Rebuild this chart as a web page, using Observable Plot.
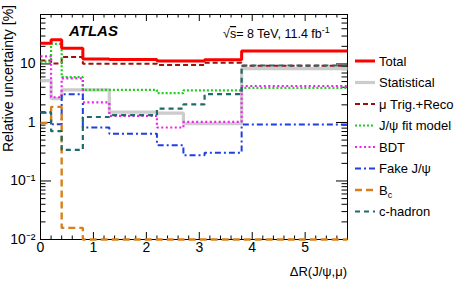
<!DOCTYPE html>
<html>
<head>
<meta charset="utf-8">
<script src="https://cdn.jsdelivr.net/npm/d3@7"></script>
<script src="https://cdn.jsdelivr.net/npm/@observablehq/plot@0.6"></script>
<style>
  html, body { margin: 0; padding: 0; background: #fff; }
  svg { font-family: "Liberation Sans", Arial, Helvetica, sans-serif; }
</style>
</head>
<body>
<div id="chart"></div>
<script>
// Bin edges in ΔR(J/ψ,μ)
const edges = [0, 0.2, 0.4, 0.8, 1.3, 2.2, 2.7, 3.1, 3.8, 5.8];

// Relative uncertainty [%] per bin
const total    = [22.6, 25.9, 18.6, 12.1, 11.9, 11.2, 11.2, 11.8, 16.6];
const stat     = [5.2, 2.55, 3.6, 3.6, 1.5, 1.45, 0.95, 0.95, 8.3];
const muTrig   = [11.5, 10.2, 13.1, 10.1, 10.1, 9.55, 9.55, 10.5, 9.3];
const jpsiFit  = [11.0, 22.0, 5.95, 3.6, 3.6, 3.17, 3.53, 3.53, 3.9];
const bdt      = [13.5, 2.7, 5.65, 2.2, 1.3, 0.82, 1.02, 1.02, 4.2];
const fakeJpsi = [1.47, 0.93, 3.05, 0.82, 0.64, 0.41, 0.275, 0.305, 0.92];
const bc       = [0.98, 1.85, 0.0158, 0.01, 0.01, 0.01, 0.01, 0.01, 0.01];
const cHadron  = [1.5, 0.71, 0.34, 1.24, 1.33, 1.72, 2.04, 3.05, 9.4];

// Axis ticks
const xMajor = [0, 1, 2, 3, 4, 5];
const xMinor = d3.range(0.2, 5.8, 0.2).filter(v => Math.abs(v - Math.round(v)) > 1e-6);
const yMajor = [0.01, 0.1, 1, 10];
const yMinor = [0.01, 0.1, 1, 10].flatMap(d => d3.range(2, 10).map(k => k * d)).filter(v => v < 70);
const yLabels = ["10\u207B\u00B2", "10\u207B\u00B9", "1", "10"];

// Series styling (drawing order: Total last, on top)
const series = [
  {name: "Statistical",   values: stat,     color: "#cccccc", width: 3.2, dash: null},
  {name: "\u03BC Trig.+Reco", values: muTrig, color: "#9a0f0f", width: 2, dash: "5,3"},
  {name: "J/\u03C8 fit model", values: jpsiFit, color: "#22cc22", width: 2.2, dash: "2,2"},
  {name: "BDT",           values: bdt,      color: "#ee22ee", width: 2.2, dash: "2,2.5"},
  {name: "Fake J/\u03C8", values: fakeJpsi, color: "#1f3fe0", width: 2,   dash: "6,3,2,3"},
  {name: "B_c",           values: bc,       color: "#d9801c", width: 2.4, dash: "7,4"},
  {name: "c-hadron",      values: cHadron,  color: "#1f6b6b", width: 2.2, dash: "5,4"},
  {name: "Total",         values: total,    color: "#ff0000", width: 3,   dash: null}
];
const legendOrder = ["Total", "Statistical", "\u03BC Trig.+Reco", "J/\u03C8 fit model", "BDT", "Fake J/\u03C8", "B_c", "c-hadron"];

const W = 463, H = 281;
const mL = 40, mR = 116, mT = 14, mB = 42;
const plotW = W - mL - mR, plotH = H - mT - mB;

function stepRows(values) {
  return edges.map((e, i) => ({x: e, y: values[Math.min(i, values.length - 1)]}));
}

const lineMarks = series.map(s => Plot.line(stepRows(s.values), {
  x: "x", y: "y", curve: "step-after",
  stroke: s.color, strokeWidth: s.width,
  strokeDasharray: s.dash, strokeLinecap: "butt", strokeLinejoin: "miter"
}));

const chart = Plot.plot({
  width: W, height: H,
  marginLeft: mL, marginRight: mR, marginTop: mT, marginBottom: mB,
  style: {fontFamily: "Liberation Sans, Arial, sans-serif", fontSize: "14px", color: "#000", overflow: "visible"},
  x: {type: "linear", domain: [0, 5.8]},
  y: {type: "log", domain: [0.01, 70]},
  marks: [
    Plot.frame({stroke: "#000", strokeWidth: 1}),
    // inward ticks, bottom and top
    Plot.tickX(xMajor, {x: d => d, insetTop: plotH - 7, stroke: "#000"}),
    Plot.tickX(xMinor, {x: d => d, insetTop: plotH - 3.5, stroke: "#000"}),
    Plot.tickX(xMajor, {x: d => d, insetBottom: plotH - 7, stroke: "#000"}),
    Plot.tickX(xMinor, {x: d => d, insetBottom: plotH - 3.5, stroke: "#000"}),
    // inward ticks, left and right
    Plot.tickY(yMajor, {y: d => d, insetRight: plotW - 11, stroke: "#000"}),
    Plot.tickY(yMinor, {y: d => d, insetRight: plotW - 5.5, stroke: "#000"}),
    Plot.tickY(yMajor, {y: d => d, insetLeft: plotW - 11, stroke: "#000"}),
    Plot.tickY(yMinor, {y: d => d, insetLeft: plotW - 5.5, stroke: "#000"}),
    Plot.axisX({ticks: xMajor, tickSize: 0, tickPadding: 3, label: null,
                tickFormat: d => String(d)}),
    Plot.axisY({ticks: yMajor, tickSize: 0, tickPadding: 5, label: null,
                tickFormat: d => yLabels[yMajor.indexOf(d)]}),
    ...lineMarks
  ]
});

document.getElementById("chart").appendChild(chart);
const svg = d3.select(chart);
// tick labels at the same size as the titles
svg.selectAll("g[aria-label='x-axis tick label'], g[aria-label='y-axis tick label']")
  .attr("font-size", 14)
  .selectAll("text").attr("font-size", 14).style("font-size", "14px");

// Axis titles
svg.append("text")
  .attr("x", mL + plotW).attr("y", 276)
  .attr("text-anchor", "end").attr("font-size", 13)
  .text("\u0394R(J/\u03C8,\u03BC)");
svg.append("text")
  .attr("transform", "translate(13,5) rotate(-90)")
  .attr("text-anchor", "end").attr("font-size", 14)
  .text("Relative uncertainty [%]");

// Experiment label
svg.append("text")
  .attr("x", 69).attr("y", 36).attr("text-anchor", "start")
  .attr("font-size", 15).attr("font-weight", "bold").attr("font-style", "italic")
  .text("ATLAS");
const energy = svg.append("text").attr("x", 223).attr("y", 38)
  .attr("text-anchor", "start").attr("font-size", 12.5);
energy.append("tspan").text("\u221A");
energy.append("tspan").attr("text-decoration", "overline").text("s");
energy.append("tspan").text("= 8 TeV, 11.4 fb");
energy.append("tspan").attr("dy", -5).attr("font-size", 9).text("-1");

// Legend
const legend = svg.append("g").attr("text-anchor", "start");
legendOrder.forEach((name, i) => {
  const s = series.find(d => d.name === name);
  const y = 61 + i * 21.5;
  legend.append("line")
    .attr("x1", 355).attr("x2", 375).attr("y1", y).attr("y2", y)
    .attr("stroke", s.color).attr("stroke-width", s.width)
    .attr("stroke-dasharray", s.dash);
  const t = legend.append("text").attr("x", 379).attr("y", y + 4.5).attr("font-size", 13);
  if (name === "B_c") {
    t.append("tspan").text("B");
    t.append("tspan").attr("dy", 3).attr("font-size", 9).text("c");
  } else {
    t.text(name);
  }
});
</script>
</body>
</html>
